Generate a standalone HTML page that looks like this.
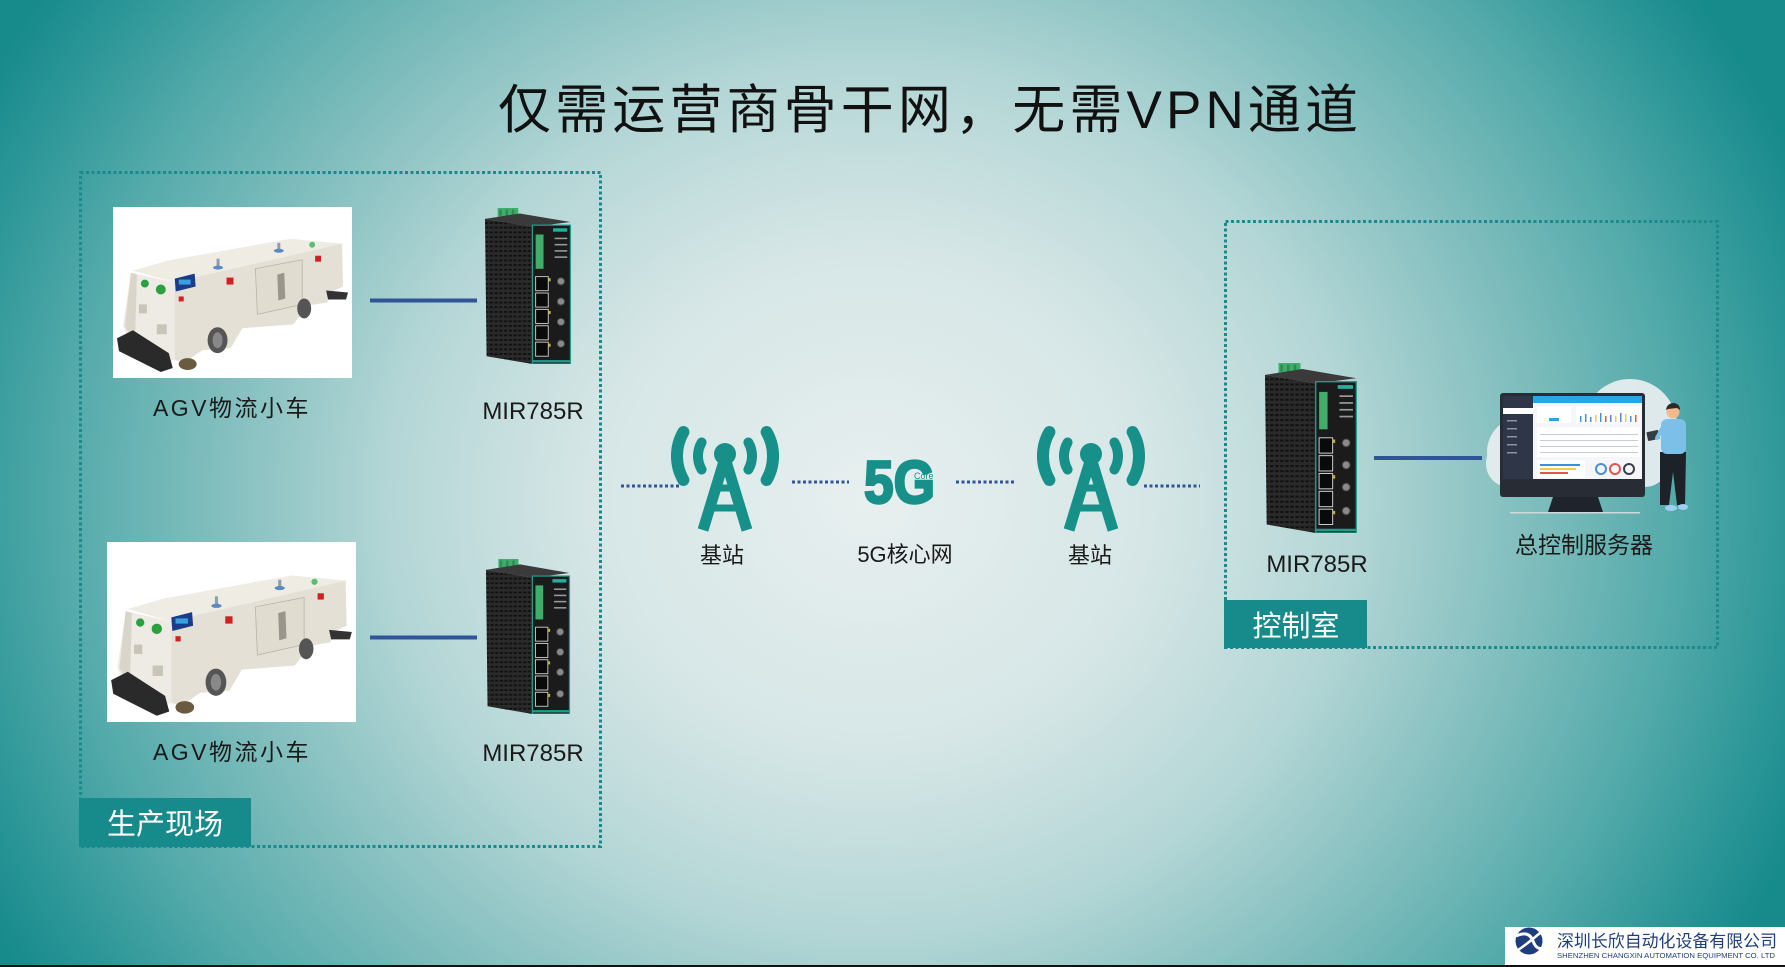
<!DOCTYPE html>
<html>
<head>
<meta charset="utf-8">
<style>
html,body{margin:0;padding:0;}
body{width:1785px;height:967px;overflow:hidden;position:relative;
background:radial-gradient(ellipse 1000px 900px at 870px 500px,#e8efef 0%,#d6e6e6 28%,#b4d6d6 48%,#86c0c0 64%,#56abab 80%,#2d9798 92%,#178a8c 100%);}
svg{position:absolute;left:0;top:0;}
text{font-family:"Liberation Sans","Noto Sans CJK SC",sans-serif;}
</style>
</head>
<body>
<svg width="1785" height="967" viewBox="0 0 1785 967" xmlns="http://www.w3.org/2000/svg">
<defs>
  <pattern id="vent" width="3" height="3" patternUnits="userSpaceOnUse">
    <rect width="3" height="3" fill="#2a2a2a"/>
    <rect width="2" height="1.2" fill="#111"/>
  </pattern>
  <g id="router">
    <rect x="8" y="0" width="13" height="6.5" fill="#3fae6a"/>
    <rect x="9" y="1" width="1.5" height="4" fill="#2c8a50"/>
    <rect x="13" y="1" width="1.5" height="4" fill="#2c8a50"/>
    <rect x="17" y="1" width="1.5" height="4" fill="#2c8a50"/>
    <polygon points="0,7 22,3.5 54,9 30,12" fill="#3a3a3a"/>
    <polygon points="0,7 30,12 30,100 1,95" fill="url(#vent)"/>
    <rect x="30" y="11" width="24" height="89" fill="#1b1b1b" stroke="#1f9d8c" stroke-width="0.8"/>
    <rect x="32" y="17" width="5" height="22" fill="#3fae6a"/>
    <rect x="43" y="13" width="9" height="2.2" fill="#22b0a0"/>
    <rect x="44" y="19" width="8" height="1" fill="#999"/>
    <rect x="44" y="23" width="8" height="1" fill="#999"/>
    <rect x="44" y="27" width="8" height="1" fill="#999"/>
    <rect x="44" y="31" width="8" height="1" fill="#999"/>
    <rect x="32" y="44" width="8" height="9" fill="#0a0a0a" stroke="#c8c8c8" stroke-width="0.6"/>
    <rect x="32" y="54.5" width="8" height="9" fill="#0a0a0a" stroke="#c8c8c8" stroke-width="0.6"/>
    <rect x="32" y="65" width="8" height="9" fill="#0a0a0a" stroke="#c8c8c8" stroke-width="0.6"/>
    <rect x="32" y="75.5" width="8" height="9" fill="#0a0a0a" stroke="#c8c8c8" stroke-width="0.6"/>
    <rect x="32" y="86" width="8" height="9" fill="#0a0a0a" stroke="#c8c8c8" stroke-width="0.6"/>
    <rect x="40" y="45" width="1.5" height="2" fill="#c8b040"/>
    <rect x="40" y="66" width="1.5" height="2" fill="#c8b040"/>
    <rect x="40" y="87" width="1.5" height="2" fill="#c8b040"/>
    <circle cx="48" cy="47" r="2.3" fill="#8a8a8a" stroke="#444" stroke-width="0.6"/>
    <circle cx="48" cy="60" r="2.3" fill="#8a8a8a" stroke="#444" stroke-width="0.6"/>
    <circle cx="48" cy="73" r="2.3" fill="#8a8a8a" stroke="#444" stroke-width="0.6"/>
    <circle cx="48" cy="87" r="2.3" fill="#8a8a8a" stroke="#444" stroke-width="0.6"/>
    <rect x="30" y="97.5" width="24" height="1.5" fill="#1f9d8c"/>
  </g>
  <g id="agv">
    <rect width="240" height="172" fill="#ffffff"/>
    <polygon points="20,64 55,54 178,32 232,37 62,76" fill="#efece4"/>
    <polygon points="60,76 230,37 231,80 222,84 215,96 196,99 181,118 130,122 118,142 90,144 72,156 62,154" fill="#e4e0d5"/>
    <polygon points="18,66 62,76 62,154 50,156 20,142 10,120" fill="#eeebe4"/>
    <polygon points="18,66 24,68 22,138 12,120" fill="#d9d5ca"/>
    <polygon points="143,62 190,53 190,98 145,108" fill="#e0dccf" stroke="#b9b4a6" stroke-width="0.8"/>
    <polygon points="165,68 172,66 173,92 166,94" fill="#9a968c"/>
    <polygon points="4,132 20,124 56,147 60,162 48,166 6,145" fill="#2a2a2a"/>
    <polygon points="214,84 236,86 234,93 216,93" fill="#333"/>
    <ellipse cx="105" cy="134" rx="10" ry="13" fill="#555"/>
    <ellipse cx="105" cy="134" rx="5" ry="8" fill="#888"/>
    <ellipse cx="192" cy="102" rx="7" ry="10" fill="#555"/>
    <ellipse cx="75" cy="158" rx="9" ry="6" fill="#6a5a40"/>
    <polygon points="62,72 82,67 83,80 63,85" fill="#1a3c8a"/>
    <rect x="66" y="73" width="12" height="5" fill="#3aa0e0"/>
    <circle cx="32" cy="77" r="4" fill="#2aa040"/>
    <circle cx="48" cy="83" r="5" fill="#2aa040"/>
    <rect x="114" y="71" width="7" height="7" fill="#d02020"/>
    <rect x="203" y="49" width="6" height="6" fill="#d02020"/>
    <rect x="66" y="90" width="5" height="5" fill="#d02020"/>
    <rect x="104" y="52" width="3" height="9" fill="#8aa0b0"/>
    <ellipse cx="105.5" cy="61" rx="5" ry="2" fill="#5a8ac0"/>
    <rect x="165" y="36" width="3" height="8" fill="#8aa0b0"/>
    <ellipse cx="166.5" cy="44" rx="5" ry="2" fill="#5a8ac0"/>
    <circle cx="200" cy="38" r="3" fill="#5ac070"/>
    <rect x="26" y="98" width="8" height="9" fill="#c9c4b8"/>
    <rect x="44" y="118" width="10" height="10" fill="#c9c4b8"/>
  </g>
</defs>

<text x="498" y="128" font-size="53" fill="#111" textLength="860" lengthAdjust="spacing">仅需运营商骨干网，无需VPN通道</text>

<rect x="80.5" y="172.5" width="520" height="674" fill="none" stroke="#1c8a8c" stroke-width="3" stroke-dasharray="3 2.5"/>
<rect x="79" y="798" width="172" height="49" fill="#178a8c"/>
<text x="165" y="834" font-size="29" fill="#ffffff" text-anchor="middle">生产现场</text>

<rect x="1225.5" y="221.5" width="492" height="426" fill="none" stroke="#1c8a8c" stroke-width="3" stroke-dasharray="3 2.5"/>
<rect x="1224" y="600" width="143" height="48" fill="#178a8c"/>
<text x="1296" y="636" font-size="29" fill="#ffffff" text-anchor="middle">控制室</text>

<svg x="113" y="207" width="239" height="171" viewBox="0 0 240 172" preserveAspectRatio="none"><use href="#agv"/></svg>
<svg x="107" y="542" width="249" height="180" viewBox="0 0 240 172" preserveAspectRatio="none"><use href="#agv"/></svg>
<text x="232" y="416" font-size="23" fill="#1a1a1a" text-anchor="middle" letter-spacing="2.5">AGV物流小车</text>
<text x="232" y="760" font-size="23" fill="#1a1a1a" text-anchor="middle" letter-spacing="2.5">AGV物流小车</text>

<svg x="485" y="208" width="87" height="156" viewBox="0 0 55 100" preserveAspectRatio="none"><use href="#router"/></svg>
<svg x="486" y="559" width="85" height="155" viewBox="0 0 55 100" preserveAspectRatio="none"><use href="#router"/></svg>
<svg x="1265" y="363" width="93" height="170" viewBox="0 0 55 100" preserveAspectRatio="none"><use href="#router"/></svg>
<text x="533" y="419" font-size="24" fill="#1a1a1a" text-anchor="middle">MIR785R</text>
<text x="533" y="761" font-size="24" fill="#1a1a1a" text-anchor="middle">MIR785R</text>
<text x="1317" y="572" font-size="24" fill="#1a1a1a" text-anchor="middle">MIR785R</text>

<line x1="370" y1="300.5" x2="477" y2="300.5" stroke="#2f5597" stroke-width="4"/>
<line x1="370" y1="637.5" x2="477" y2="637.5" stroke="#2f5597" stroke-width="4"/>
<line x1="1374" y1="458" x2="1482" y2="458" stroke="#2f5597" stroke-width="4"/>

<g stroke="#2f5597" stroke-width="3" stroke-dasharray="3 2.5">
  <line x1="621" y1="486" x2="679" y2="486"/>
  <line x1="792" y1="482" x2="849" y2="482"/>
  <line x1="956" y1="482" x2="1014" y2="482"/>
  <line x1="1144" y1="486" x2="1200" y2="486"/>
</g>

<g fill="none" stroke="#17908a" stroke-linecap="round">
  <path d="M683.4,480 A48 48 0 0 1 683.4,432" stroke-width="12"/>
  <path d="M766.6,432 A48 48 0 0 1 766.6,480" stroke-width="12"/>
  <path d="M701.6,469.5 A27 27 0 0 1 701.6,442.5" stroke-width="10"/>
  <path d="M748.4,442.5 A27 27 0 0 1 748.4,469.5" stroke-width="10"/>
  <path d="M1049.4,480 A48 48 0 0 1 1049.4,432" stroke-width="12"/>
  <path d="M1132.6,432 A48 48 0 0 1 1132.6,480" stroke-width="12"/>
  <path d="M1067.6,469.5 A27 27 0 0 1 1067.6,442.5" stroke-width="10"/>
  <path d="M1114.4,442.5 A27 27 0 0 1 1114.4,469.5" stroke-width="10"/>
</g>
<g stroke="#17908a" fill="#17908a">
  <circle cx="725" cy="454" r="11" stroke="none"/>
  <line x1="725" y1="458" x2="703" y2="530" stroke-width="11"/>
  <line x1="725" y1="458" x2="747" y2="530" stroke-width="11"/>
  <line x1="713" y1="488" x2="737" y2="488" stroke-width="7"/>
  <line x1="707" y1="508" x2="743" y2="508" stroke-width="7"/>
  <circle cx="1091" cy="454" r="11" stroke="none"/>
  <line x1="1091" y1="458" x2="1069" y2="530" stroke-width="11"/>
  <line x1="1091" y1="458" x2="1113" y2="530" stroke-width="11"/>
  <line x1="1079" y1="488" x2="1103" y2="488" stroke-width="7"/>
  <line x1="1073" y1="508" x2="1109" y2="508" stroke-width="7"/>
</g>
<text x="722" y="563" font-size="22" fill="#1a1a1a" text-anchor="middle">基站</text>
<text x="1090" y="563" font-size="22" fill="#1a1a1a" text-anchor="middle">基站</text>

<text x="864" y="503" font-size="60" font-weight="bold" fill="#17908a" stroke="#17908a" stroke-width="2.5" textLength="71" lengthAdjust="spacingAndGlyphs">5G</text>
<text x="914" y="479" font-size="9" fill="#17908a">Core</text>
<text x="905" y="562" font-size="22" fill="#1a1a1a" text-anchor="middle">5G核心网</text>

<g>
  <g fill="#e9eff1" opacity="0.92">
    <circle cx="1630" cy="426" r="47"/>
    <circle cx="1522" cy="452" r="35"/>
    <rect x="1486" y="440" width="182" height="47" rx="23"/>
  </g>
  <rect x="1500" y="393" width="145" height="104" rx="3" fill="#272c35"/>
  <rect x="1503" y="396" width="139" height="83" fill="#f4f6f9"/>
  <rect x="1503" y="396" width="30" height="83" fill="#2e3648"/>
  <rect x="1533" y="396" width="109" height="7" fill="#2aa7e0"/>
  <rect x="1503" y="408" width="30" height="6" fill="#ffffff"/>
  <g fill="#8a93a6"><rect x="1507" y="420" width="10" height="1.5"/><rect x="1507" y="428" width="10" height="1.5"/><rect x="1507" y="436" width="10" height="1.5"/><rect x="1507" y="444" width="10" height="1.5"/><rect x="1507" y="452" width="10" height="1.5"/></g>
  <rect x="1537" y="407" width="34" height="16" fill="#ffffff"/>
  <rect x="1549" y="418" width="10" height="3" fill="#2aa7e0"/>
  <rect x="1576" y="407" width="64" height="17" fill="#ffffff"/>
  <g fill="#4a90d9"><rect x="1580" y="416" width="1.5" height="6"/><rect x="1585" y="414" width="1.5" height="8"/><rect x="1590" y="417" width="1.5" height="5"/><rect x="1600" y="413" width="1.5" height="9"/><rect x="1610" y="415" width="1.5" height="7"/><rect x="1620" y="413" width="1.5" height="9"/><rect x="1630" y="416" width="1.5" height="6"/></g>
  <g fill="#f2c94c"><rect x="1595" y="415" width="1.5" height="7"/><rect x="1615" y="416" width="1.5" height="6"/><rect x="1625" y="414" width="1.5" height="8"/></g>
  <g fill="#e2574c"><rect x="1605" y="416" width="1.5" height="6"/><rect x="1635" y="415" width="1.5" height="7"/></g>
  <rect x="1537" y="427" width="103" height="30" fill="#ffffff"/>
  <g fill="#c5cbd4"><rect x="1540" y="434" width="98" height="1"/><rect x="1540" y="440" width="98" height="1"/><rect x="1540" y="446" width="98" height="1"/><rect x="1540" y="452" width="98" height="1"/></g>
  <rect x="1537" y="460" width="48" height="18" fill="#ffffff"/>
  <rect x="1540" y="464" width="40" height="2" fill="#3b8fe0"/>
  <rect x="1540" y="468" width="36" height="2" fill="#f2c94c"/>
  <rect x="1540" y="472" width="28" height="2" fill="#e2574c"/>
  <circle cx="1601" cy="469" r="5" fill="none" stroke="#4a90d9" stroke-width="2"/>
  <circle cx="1615" cy="469" r="5" fill="none" stroke="#e2574c" stroke-width="2"/>
  <circle cx="1629" cy="469" r="5" fill="none" stroke="#3a3f4a" stroke-width="2"/>
  <polygon points="1553,497 1598,497 1603,512 1548,512" fill="#1f242c"/>
  <rect x="1510" y="512" width="130" height="1.5" fill="#cfd8da"/>
  <polygon points="1660,452 1686,452 1685,505 1677,505 1673,472 1669,505 1660,505" fill="#1d2228"/>
  <rect x="1661" y="419" width="25" height="35" rx="6" fill="#7cc0e8"/>
  <circle cx="1673" cy="412" r="6.5" fill="#f0b98e"/>
  <path d="M1666,410 Q1667,403 1674,403 Q1680,404 1680,410 L1677,408 L1668,409 Z" fill="#2b2b2b"/>
  <rect x="1647" y="431" width="12" height="9" rx="1" fill="#333b45" transform="rotate(-12 1653 435)"/>
  <line x1="1663" y1="427" x2="1657" y2="438" stroke="#7cc0e8" stroke-width="4" stroke-linecap="round"/>
  <ellipse cx="1671" cy="508" rx="6" ry="3" fill="#9ed0f0"/>
  <ellipse cx="1683" cy="507" rx="5" ry="3" fill="#9ed0f0"/>
</g>
<text x="1584" y="553" font-size="23" fill="#1a1a1a" text-anchor="middle">总控制服务器</text>

<rect x="0" y="965" width="1785" height="2" fill="#111"/>
<rect x="1505" y="927" width="280" height="38" fill="#ffffff"/>
<circle cx="1529" cy="941" r="13.5" fill="#1f3c7c"/>
<path d="M1516,936 Q1529,930 1533,941 Q1537,952 1546,947" fill="none" stroke="#ffffff" stroke-width="3"/>
<path d="M1518,950 Q1527,944 1540,933" fill="none" stroke="#ffffff" stroke-width="2.5"/>
<text x="1557" y="947" font-size="17" fill="#1f3f7f" textLength="220" lengthAdjust="spacingAndGlyphs">深圳长欣自动化设备有限公司</text>
<text x="1557" y="958" font-size="7" fill="#1f3f7f" textLength="218" lengthAdjust="spacingAndGlyphs">SHENZHEN CHANGXIN AUTOMATION EQUIPMENT CO. LTD</text>
</svg>
</body>
</html>
